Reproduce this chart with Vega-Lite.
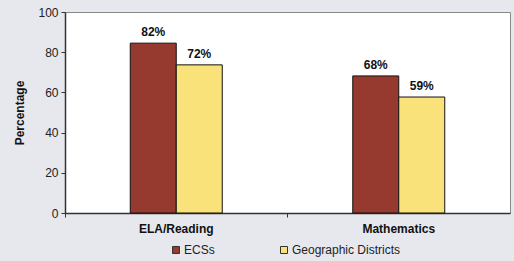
{
  "$schema": "https://vega.github.io/schema/vega-lite/v6.json",
  "width": 445,
  "height": 201,
  "autosize": {"type": "none"},
  "padding": {"left": 65, "top": 12, "right": 4, "bottom": 48},
  "background": "#E6E8EE",
  "config": {
    "font": "Liberation Sans",
    "view": {"stroke": "#888888", "strokeWidth": 1, "fill": "white"}
  },
  "data": {
    "values": [
      {"subject": "ELA/Reading", "group": "ECSs", "value": 84.5, "label": "82%"},
      {"subject": "ELA/Reading", "group": "Geographic Districts", "value": 73.7, "label": "72%"},
      {"subject": "Mathematics", "group": "ECSs", "value": 68.2, "label": "68%"},
      {"subject": "Mathematics", "group": "Geographic Districts", "value": 57.7, "label": "59%"}
    ]
  },
  "encoding": {
    "x": {
      "field": "subject", "type": "nominal", "sort": null,
      "scale": {"paddingInner": 0, "paddingOuter": 0},
      "axis": {
        "title": null, "labelAngle": 0, "bandPosition": 0,
        "labelFont": "Liberation Sans", "labelFontSize": 12, "labelFontWeight": "bold",
        "labelColor": "#111", "labelPadding": 6,
        "domainColor": "#333", "domainWidth": 1.5, "tickColor": "#333", "tickSize": 4
      }
    },
    "xOffset": {
      "field": "group", "type": "nominal", "sort": null,
      "scale": {"paddingInner": 0, "paddingOuter": 0, "range": [65.25, 157.25]}
    },
    "y": {
      "field": "value", "type": "quantitative",
      "scale": {"domain": [0, 100], "nice": false},
      "axis": {
        "title": "Percentage", "values": [0, 20, 40, 60, 80, 100], "grid": false,
        "labelFont": "Liberation Sans", "labelFontSize": 12, "labelColor": "#222", "labelPadding": 3,
        "titleFont": "Liberation Sans", "titleFontSize": 12, "titleFontWeight": "bold", "titleColor": "#111",
        "titlePadding": 11,
        "domainColor": "#333", "domainWidth": 1.5, "tickColor": "#333", "tickSize": 4
      }
    }
  },
  "layer": [
    {
      "mark": {"type": "bar", "stroke": "#111", "strokeWidth": 1},
      "encoding": {
        "color": {
          "field": "group", "type": "nominal", "sort": null,
          "scale": {"domain": ["ECSs", "Geographic Districts"], "range": ["#963A2F", "#FAE27A"]},
          "legend": {
            "title": null, "orient": "none", "direction": "horizontal",
            "legendX": 105, "legendY": 232,
            "symbolType": "square", "symbolSize": 49, "symbolStrokeColor": "#333", "symbolStrokeWidth": 1,
            "labelFont": "Liberation Sans", "labelFontSize": 12, "labelColor": "#222",
            "labelOffset": 2, "columnPadding": 63
          }
        }
      }
    },
    {
      "mark": {"type": "text", "baseline": "bottom", "dy": -4, "font": "Liberation Sans", "fontSize": 12, "fontWeight": "bold", "color": "#111"},
      "encoding": {"text": {"field": "label"}}
    }
  ]
}
